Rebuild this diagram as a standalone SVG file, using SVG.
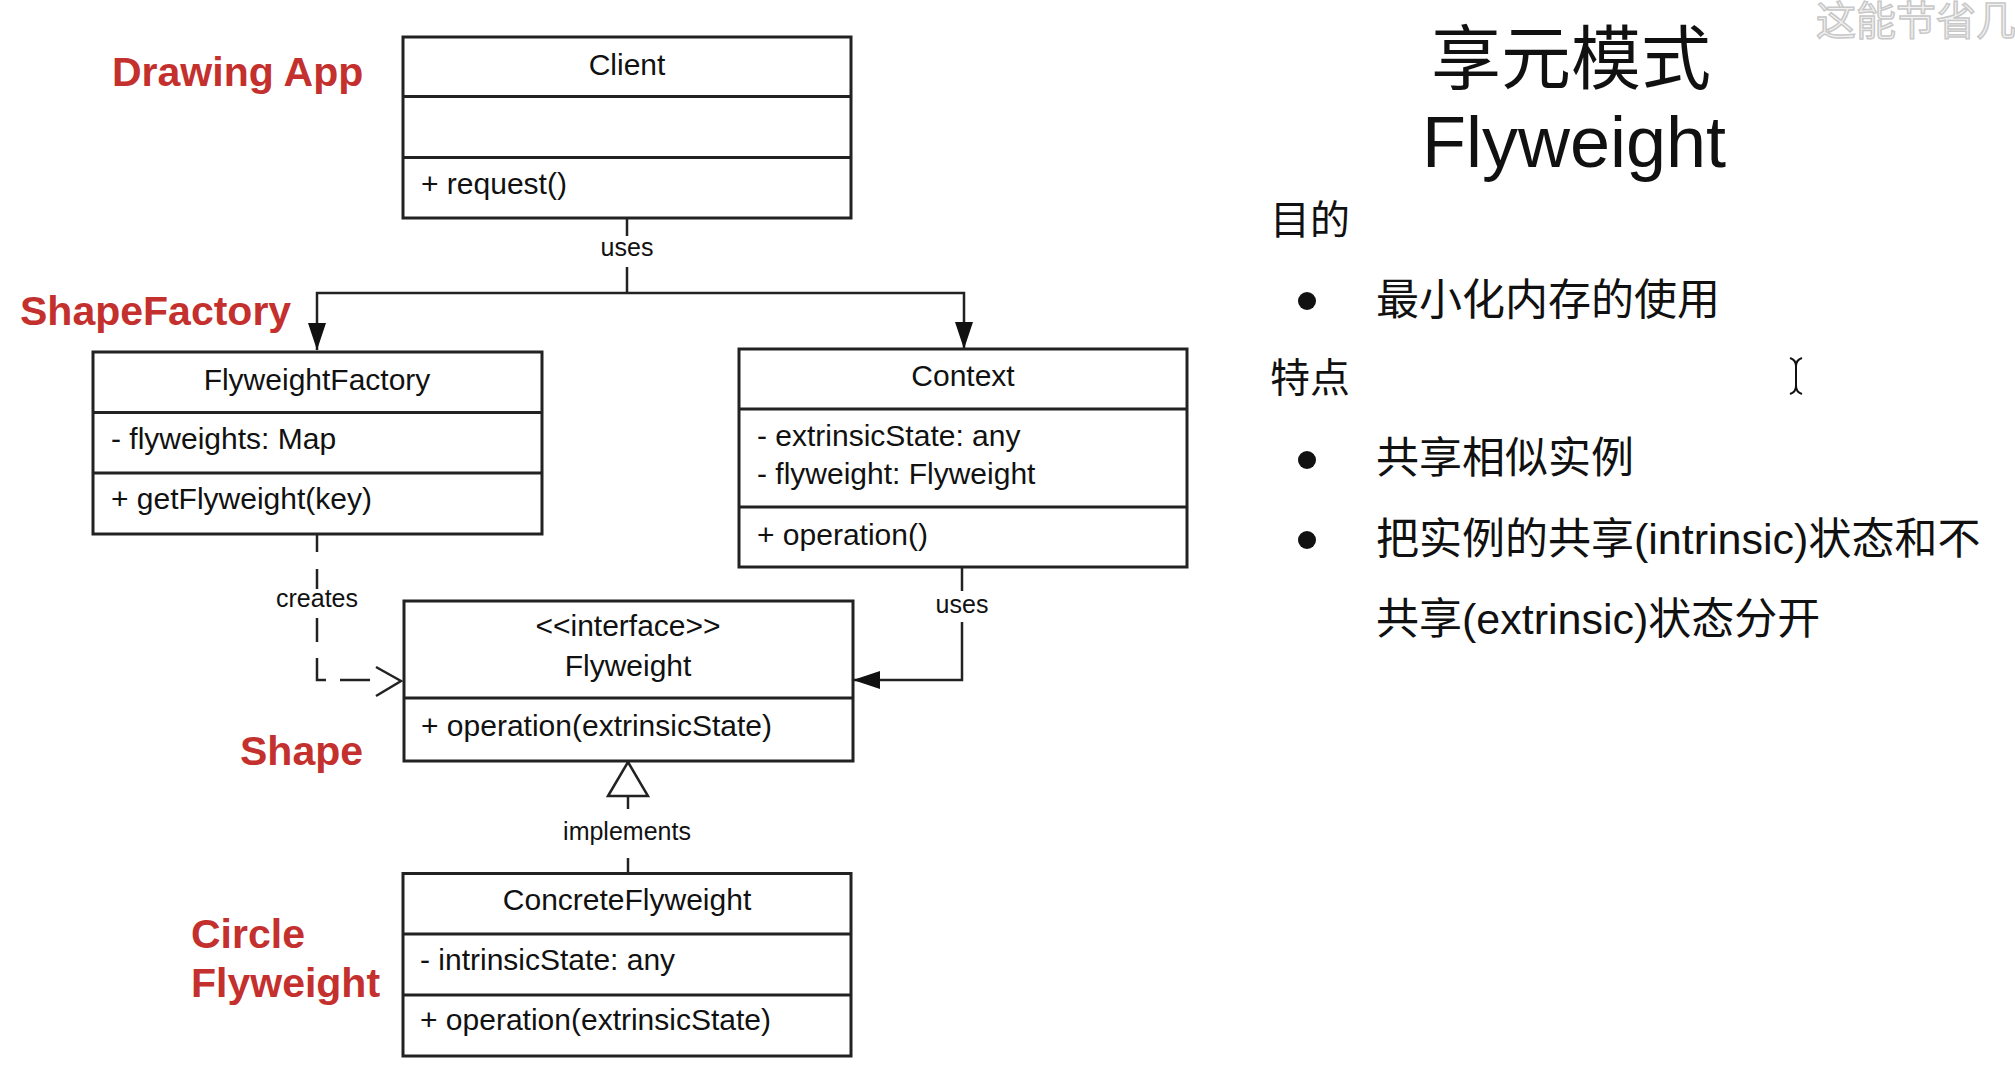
<svg xmlns="http://www.w3.org/2000/svg" width="2015" height="1071" viewBox="0 0 2015 1071">
<style>
.box{fill:#fff;stroke:#222;stroke-width:3}
.div{stroke:#222;stroke-width:3}
.t{font-family:"Liberation Sans",Arial,sans-serif;font-size:30px;fill:#111}
.c{text-anchor:middle}
.lbl{font-family:"Liberation Sans",Arial,sans-serif;font-size:25px;fill:#111;text-anchor:middle}
.red{font-family:"Liberation Sans",Arial,sans-serif;font-size:41px;font-weight:bold;fill:#c3302d}
.ln{fill:none;stroke:#222;stroke-width:2.5}
.cjk{font-family:"Liberation Sans","Noto Sans CJK SC",sans-serif;fill:#111}
</style>
<defs>
<marker id="fill" markerUnits="userSpaceOnUse" viewBox="0 0 27 18" refX="27" refY="9" markerWidth="27" markerHeight="18" orient="auto">
<path d="M0,0 L27,9 L0,18 Z" fill="#111"/>
</marker>
<marker id="tri" markerUnits="userSpaceOnUse" viewBox="-2 -2 38 44" refX="34" refY="20" markerWidth="38" markerHeight="44" orient="auto">
<path d="M0,0 L34,20 L0,40 Z" fill="#fff" stroke="#222" stroke-width="2.5"/>
</marker>
</defs>
<rect width="2015" height="1071" fill="#fff"/>

<g id="connectors">
<path class="ln" d="M627,218 V236 M627,267 V293"/>
<path class="ln" d="M627,293 H317 V350" marker-end="url(#fill)"/>
<path class="ln" d="M627,293 H964 V349" marker-end="url(#fill)"/>
<text class="lbl" x="627" y="256">uses</text>
<path class="ln" d="M317,534 V552 M317,569 V589 M317,618 V642 M317,658 V680 H326 M340,680 H370"/>
<path class="ln" d="M376,667 L401,681 L376,696"/>
<text class="lbl" x="317" y="607">creates</text>
<path class="ln" d="M962,567 V591"/>
<path class="ln" d="M962,622 V680 H853" marker-end="url(#fill)"/>
<text class="lbl" x="962" y="613">uses</text>
<path class="ln" d="M628,873.5 V858"/>
<path class="ln" d="M628,809 V762" marker-end="url(#tri)"/>
<text class="lbl" x="627" y="840">implements</text>
</g>

<g id="client">
<rect class="box" x="403" y="37" width="448" height="181"/>
<line class="div" x1="403" y1="96.5" x2="851" y2="96.5"/>
<line class="div" x1="403" y1="157.5" x2="851" y2="157.5"/>
<text class="t c" x="627" y="75">Client</text>
<text class="t" x="421" y="194">+ request()</text>
</g>

<g id="flyweightfactory">
<rect class="box" x="93" y="352" width="449" height="182"/>
<line class="div" x1="93" y1="412.5" x2="542" y2="412.5"/>
<line class="div" x1="93" y1="473" x2="542" y2="473"/>
<text class="t c" x="317" y="390">FlyweightFactory</text>
<text class="t" x="111" y="449">- flyweights: Map</text>
<text class="t" x="111" y="509">+ getFlyweight(key)</text>
</g>

<g id="context">
<rect class="box" x="739" y="349" width="448" height="218"/>
<line class="div" x1="739" y1="409" x2="1187" y2="409"/>
<line class="div" x1="739" y1="507" x2="1187" y2="507"/>
<text class="t c" x="963" y="386">Context</text>
<text class="t" x="757" y="446">- extrinsicState: any</text>
<text class="t" x="757" y="484">- flyweight: Flyweight</text>
<text class="t" x="757" y="545">+ operation()</text>
</g>

<g id="flyweight">
<rect class="box" x="404" y="601" width="449" height="160"/>
<line class="div" x1="404" y1="698" x2="853" y2="698"/>
<text class="t c" x="628" y="636">&lt;&lt;interface&gt;&gt;</text>
<text class="t c" x="628" y="676">Flyweight</text>
<text class="t" x="421" y="736">+ operation(extrinsicState)</text>
</g>

<g id="concreteflyweight">
<rect class="box" x="403" y="873.5" width="448" height="182.5"/>
<line class="div" x1="403" y1="934" x2="851" y2="934"/>
<line class="div" x1="403" y1="995" x2="851" y2="995"/>
<text class="t c" x="627" y="910">ConcreteFlyweight</text>
<text class="t" x="420" y="970">- intrinsicState: any</text>
<text class="t" x="420" y="1030">+ operation(extrinsicState)</text>
</g>

<g id="annotations">
<text class="red" x="112" y="86">Drawing App</text>
<text class="red" x="20" y="325">ShapeFactory</text>
<text class="red" x="240" y="765">Shape</text>
<text class="red" x="191" y="948">Circle</text>
<text class="red" x="191" y="997">Flyweight</text>
</g>

<g id="notes">
<text class="cjk" x="1571" y="84" font-size="70" text-anchor="middle">享元模式</text>
<text class="cjk" x="1574" y="167" font-size="72" text-anchor="middle">Flyweight</text>
<text class="cjk" x="1270" y="234" font-size="40">目的</text>
<circle cx="1307" cy="301" r="9" fill="#111"/>
<text class="cjk" x="1376" y="315" font-size="43">最小化内存的使用</text>
<text class="cjk" x="1270" y="392" font-size="40">特点</text>
<circle cx="1307" cy="460" r="9" fill="#111"/>
<text class="cjk" x="1376" y="473" font-size="43">共享相似实例</text>
<circle cx="1307" cy="540" r="9" fill="#111"/>
<text class="cjk" x="1376" y="554" font-size="43">把实例的共享(intrinsic)状态和不</text>
<text class="cjk" x="1376" y="634" font-size="43">共享(extrinsic)状态分开</text>
<path d="M1790,358 Q1796,360 1796,366 V386 Q1796,392 1790,394 M1802,358 Q1796,360 1796,366 M1802,394 Q1796,392 1796,386" fill="none" stroke="#111" stroke-width="2"/>
<text x="1816" y="35" font-size="40" font-family="'Noto Sans CJK SC',sans-serif" fill="#f2f2f2" stroke="#c8c8c8" stroke-width="1.5">这能节省几毛</text>
</g>
</svg>
